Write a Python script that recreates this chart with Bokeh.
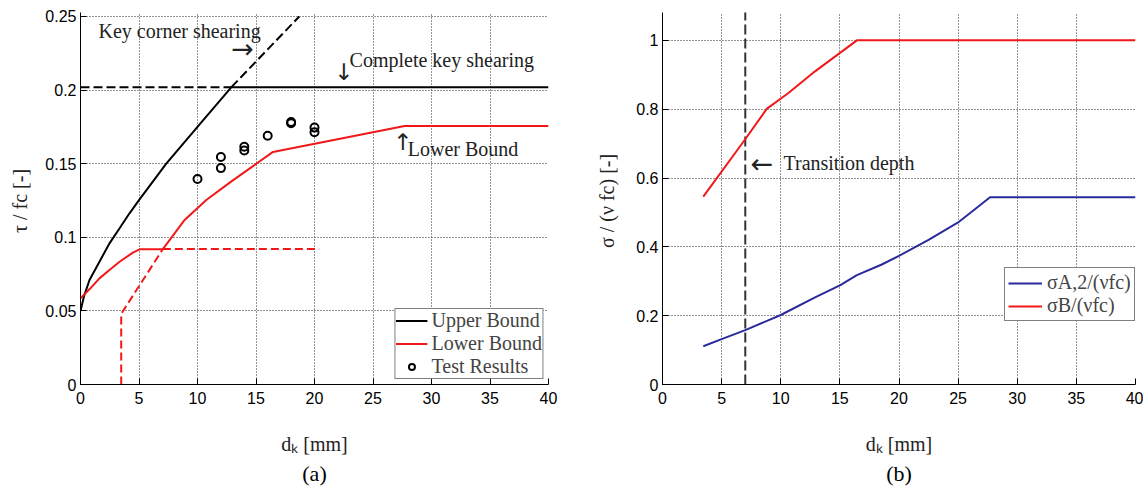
from bokeh.plotting import figure
from bokeh.layouts import row
from bokeh.models import Range1d, FixedTicker, Legend, LegendItem, Title, Label
from bokeh.embed import file_html
from bokeh.resources import INLINE

# ---------------- data: panel (a) ----------------
x_ticks = [0, 5, 10, 15, 20, 25, 30, 35, 40]
ya_ticks = [0, 0.05, 0.1, 0.15, 0.2, 0.25]
ya_labels = ["0", "0.05", "0.1", "0.15", "0.2", "0.25"]

ub_x = [0, 0.3, 0.77, 1.62, 2.48, 3.34, 4.19, 5, 7.33, 10, 12.9, 40]
ub_y = [0.05, 0.06, 0.071, 0.0834, 0.0959, 0.1061, 0.1163, 0.1253, 0.150, 0.175, 0.202, 0.202]
corner_x = [12.9, 18.7]
corner_y = [0.202, 0.25]
complete_x = [0, 12.9]
complete_y = [0.202, 0.202]

lb1_x = [0, 0.8, 1.62, 2.5, 3.34, 4.48, 5.05, 7.04]
lb1_y = [0.0585, 0.065, 0.0721, 0.078, 0.0834, 0.0896, 0.0918, 0.0918]
lb2_x = [7.04, 8.9, 10.75, 12.9, 16.45, 27.7, 40]
lb2_y = [0.092, 0.1118, 0.1253, 0.138, 0.158, 0.1756, 0.1756]
lbd1_x = [3.48, 3.48, 7.04]
lbd1_y = [0.0, 0.048, 0.092]
lbd2_x = [7.04, 20.4]
lbd2_y = [0.092, 0.092]

test_x = [10, 12, 12, 14, 14, 16, 18, 18, 20, 20]
test_y = [0.1396, 0.1545, 0.147, 0.1615, 0.159, 0.169, 0.1783, 0.1775, 0.1745, 0.1713]

# ---------------- data: panel (b) ----------------
yb_ticks = [0, 0.2, 0.4, 0.6, 0.8, 1.0]
yb_labels = ["0", "0.2", "0.4", "0.6", "0.8", "1"]

sa_x = [3.45, 5, 7, 10, 12.9, 15, 16.44, 18.5, 20, 22.5, 25, 27.7, 40]
sa_y = [0.111, 0.132, 0.158, 0.202, 0.253, 0.288, 0.318, 0.348, 0.374, 0.42, 0.471, 0.544, 0.544]
sb_x = [3.45, 6.98, 8.81, 10.65, 12.9, 16.44, 40]
sb_y = [0.546, 0.712, 0.801, 0.847, 0.91, 1.0, 1.0]
transition_x = [7, 7]
transition_y = [0, 1.1]

SERIF = "Liberation Serif"
SANS = "Liberation Sans"
ARROWF = "DejaVu Sans"
RED = "#f01818"
BLUE = "#2a2a9c"


def style(p, yticks, ylabels, xlabel, ylabel, caption, ylab_standoff):
    p.outline_line_color = None
    p.background_fill_color = "white"
    p.border_fill_color = "white"
    p.xaxis.ticker = FixedTicker(ticks=x_ticks)
    p.yaxis.ticker = FixedTicker(ticks=yticks)
    p.yaxis.major_label_overrides = {t: l for t, l in zip(yticks, ylabels)}
    p.xaxis.major_label_overrides = {t: str(t) for t in x_ticks}
    for ax in (p.xaxis[0], p.yaxis[0]):
        ax.axis_line_color = "black"
        ax.axis_line_width = 1
        ax.major_tick_in = 6
        ax.major_tick_out = 0
        ax.minor_tick_line_color = None
        ax.major_tick_line_color = "black"
        ax.major_label_text_font = SANS
        ax.major_label_text_font_size = "16px"
        ax.major_label_text_color = "black"
        ax.axis_label_text_font = SERIF
        ax.axis_label_text_font_size = "20px"
        ax.axis_label_text_font_style = "normal"
        ax.axis_label_text_color = "#222222"
    p.xaxis.major_label_standoff = 7
    p.yaxis.major_label_standoff = 4
    p.xaxis.axis_label = xlabel
    p.yaxis.axis_label = ylabel
    p.xaxis.axis_label_standoff = 26
    p.yaxis.axis_label_standoff = ylab_standoff
    for g in (p.xgrid[0], p.ygrid[0]):
        g.grid_line_color = "#2a2a2a"
        g.grid_line_dash = "1 2"
        g.grid_line_width = 1
    p.xgrid.ticker = FixedTicker(ticks=x_ticks)
    p.ygrid.ticker = FixedTicker(ticks=yticks)
    p.add_layout(Title(text=caption, align="center", text_font=SERIF,
                       text_font_size="22px", text_font_style="normal",
                       text_color="black", standoff=2), "below")


def label(p, x, y, text, align="left", font=SERIF, size="20px"):
    p.add_layout(Label(x=x, y=y, text=text, text_font=font, text_font_size=size,
                       text_color="#222222", text_align=align, text_baseline="middle"))


# ---------------- panel (a) ----------------
p1 = figure(width=589, height=489, x_range=Range1d(0, 40), y_range=Range1d(0, 0.2527),
            output_backend="svg", toolbar_location=None,
            min_border_left=80, min_border_right=41, min_border_top=12, min_border_bottom=105)
style(p1, ya_ticks, ya_labels, "dₖ [mm]", "τ / fc  [-]", "(a)", 11)

r_ub = p1.line(ub_x, ub_y, line_color="black", line_width=2)
p1.line(corner_x, corner_y, line_color="black", line_width=2, line_dash="9 4")
p1.line(complete_x, complete_y, line_color="black", line_width=2, line_dash="9 4")
r_lb = p1.line(lb1_x, lb1_y, line_color=RED, line_width=2)
p1.line(lb2_x, lb2_y, line_color=RED, line_width=2)
p1.line(lbd1_x, lbd1_y, line_color=RED, line_width=2, line_dash="8 4")
p1.line(lbd2_x, lbd2_y, line_color=RED, line_width=2, line_dash="8 4")
r_test = p1.scatter(test_x, test_y, marker="circle", size=8, fill_color=None,
                    line_color="black", line_width=2)

label(p1, 1.54, 0.240, "Key corner shearing")
label(p1, 13.86, 0.2285, "→", align="center", font=ARROWF, size="27px")
label(p1, 22.5, 0.2122, "↓", align="center", font=ARROWF, size="23px")
label(p1, 23.0, 0.2204, "Complete key shearing")
label(p1, 27.54, 0.1647, "↑", align="center", font=ARROWF, size="23px")
label(p1, 27.97, 0.1599, "Lower Bound")

leg1 = Legend(items=[LegendItem(label="Upper Bound", renderers=[r_ub]),
                     LegendItem(label="Lower Bound", renderers=[r_lb]),
                     LegendItem(label="Test Results", renderers=[r_test])],
              location="bottom_right", margin=5, padding=0, spacing=-3,
              glyph_width=32, glyph_height=15, label_height=15, label_standoff=4,
              label_text_font=SERIF, label_text_font_size="20px",
              border_line_color="black", border_line_width=1.5,
              background_fill_color="white", background_fill_alpha=1)
p1.add_layout(leg1)

# ---------------- panel (b) ----------------
p2 = figure(width=554, height=489, x_range=Range1d(0, 40), y_range=Range1d(0, 1.081),
            output_backend="svg", toolbar_location=None,
            min_border_left=73, min_border_right=8, min_border_top=12, min_border_bottom=105)
style(p2, yb_ticks, yb_labels, "dₖ [mm]", "σ / (ν fc)  [-]", "(b)", 15)

p2.line(transition_x, transition_y, line_color="#333333", line_width=2, line_dash="10 4")
r_sa = p2.line(sa_x, sa_y, line_color=BLUE, line_width=2)
r_sb = p2.line(sb_x, sb_y, line_color=RED, line_width=2)

label(p2, 8.39, 0.643, "←", align="center", font=ARROWF, size="27px")
label(p2, 10.23, 0.643, "Transition depth")

leg2 = Legend(items=[LegendItem(label="σA,2/(νfc)", renderers=[r_sa]),
                     LegendItem(label="σB/(νfc)", renderers=[r_sb])],
              location=(342, 63), margin=0, padding=3, spacing=0,
              glyph_width=34, glyph_height=20, label_height=20, label_standoff=5,
              label_text_font=SERIF, label_text_font_size="20px",
              border_line_color="black", border_line_width=1.5,
              background_fill_color="white", background_fill_alpha=1)
p2.add_layout(leg2)

layout = row(p1, p2)
open("out.html", "w").write(file_html(layout, INLINE))
